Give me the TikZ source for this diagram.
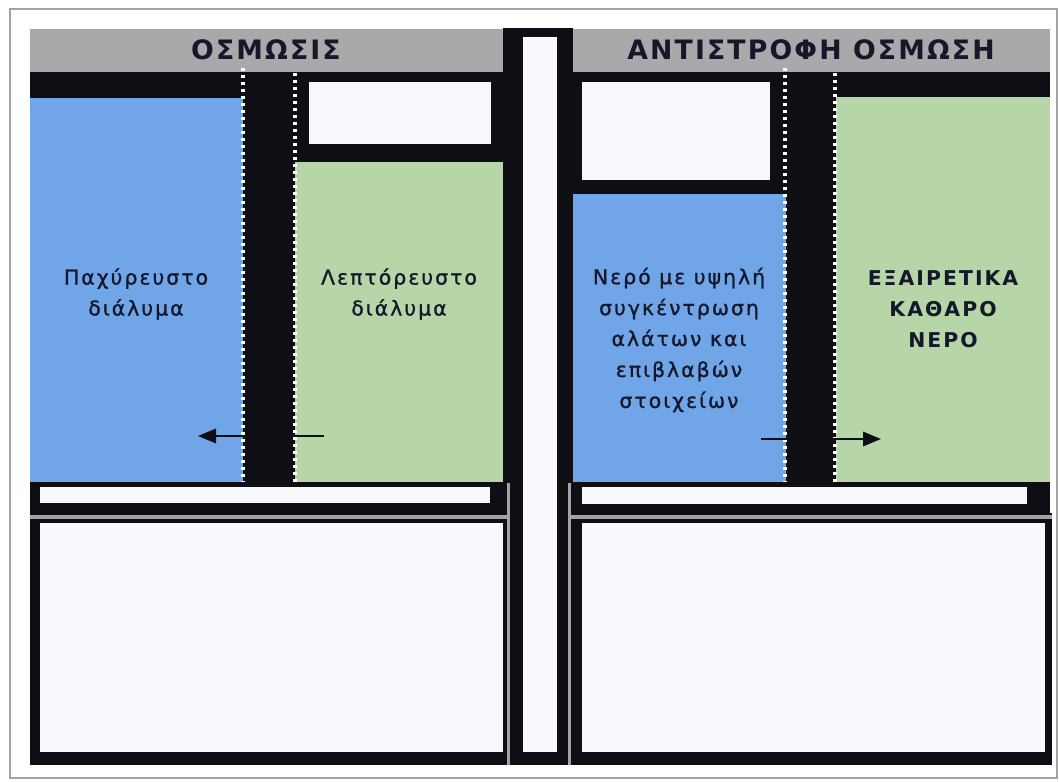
\documentclass[tikz,border=0pt]{standalone}
\usepackage{fontspec}
\setmainfont{DejaVu Sans}
\usepackage{xcolor}
\usepackage{tikz}
\usetikzlibrary{arrows.meta}
\definecolor{ink}{HTML}{0E0E14}
\definecolor{head}{HTML}{A9A9AC}
\definecolor{salt}{HTML}{70A6E8}
\definecolor{pure}{HTML}{B6D6A8}
\definecolor{paper}{HTML}{F7F9FC}
\definecolor{rim}{HTML}{A3A3A6}
\definecolor{type}{HTML}{15172A}
\tikzset{
  >={Triangle[length=0.45cm,width=0.36cm]},
  headbar/.style={fill=head},
  wall/.style={fill=ink},
  hole/.style={fill=paper},
  membrane/.style={white,line width=0.11cm,dash pattern=on 0.075cm off 0.1cm},
  seam/.style={rim,line width=0.09cm},
  flow/.style={ink,line width=0.05cm},
  headtext/.style={type,font=\bfseries\fontsize{19}{22}\selectfont\addfontfeatures{LetterSpace=8}},
  fluidtext/.style={type,align=center,font=\fontsize{14.5}{22}\selectfont\addfontfeatures{LetterSpace=10,FakeBold=1.2}},
  puretext/.style={type,align=center,font=\bfseries\fontsize{14.5}{22}\selectfont\addfontfeatures{LetterSpace=10}},
}

\begin{document}
\begin{tikzpicture}[x=0.025cm,y=-0.025cm]
  \useasboundingbox (0,0) rectangle (1059,782);
  \fill[white] (0,0) rectangle (1059,782);
  \draw[rim,line width=0.05cm] (10,9) rectangle (1057,778);
  % left cell
  \fill[headbar] (30,29) rectangle (503,72);
  \fill[wall] (30,72) rectangle (503,515);
  \fill[salt] (30,98) rectangle (243,482);
  \fill[pure] (295,162) rectangle (503,482);
  \fill[hole] (309,82) rectangle (491,144);
  \fill[hole] (40,487) rectangle (490,503);
  \fill[wall] (30,513) rectangle (510,765);
  \fill[hole] (40,523) rectangle (506,752);
  % middle column
  \fill[wall] (503,28) rectangle (573,765);
  \fill[hole] (523,37) rectangle (557,752);
  % right cell
  \fill[headbar] (573,29) rectangle (1050,72);
  \fill[wall] (573,72) rectangle (1050,515);
  \fill[hole] (582,82) rectangle (770,180);
  \fill[salt] (573,194) rectangle (786,482);
  \fill[pure] (836,97) rectangle (1050,482);
  \fill[hole] (582,487) rectangle (1027,504);
  \fill[wall] (570,513) rectangle (1052,765);
  \fill[hole] (582,523) rectangle (1045,752);
  % seams round the pistons
  \draw[seam] (508.5,483) -- (508.5,765) (30,517) -- (508.5,517);
  \draw[seam] (569.5,483) -- (569.5,765) (569.5,517) -- (1052,517);
  % membranes
  \draw[membrane] (243,68) -- (243,482) (295,73) -- (295,482);
  \draw[membrane] (785,68) -- (785,482) (835,73) -- (835,482);
  % texts
  \node[headtext] (hdOsm) at (266,50) {ΟΣΜΩΣΙΣ};
  \node[headtext] (hdRev) at (811,50) {ΑΝΤΙΣΤΡΟΦΗ ΟΣΜΩΣΗ};
  \node[fluidtext] (thick) at (136,294) {Παχύρευστο\\διάλυμα};
  \node[fluidtext] (thin) at (399,294) {Λεπτόρευστο\\διάλυμα};
  \node[fluidtext] (brine) at (679,340) {Νερό με υψηλή\\συγκέντρωση\\αλάτων και\\επιβλαβών\\στοιχείων};
  \node[puretext] (clean) at (943,309) {ΕΞΑΙΡΕΤΙΚΑ\\ΚΑΘΑΡΟ\\ΝΕΡΟ};
  % water flow
  \coordinate (inL) at (324,436);
  \coordinate (outL) at (198,436);
  \coordinate (inR) at (761,439);
  \coordinate (outR) at (881,439);
  \draw[flow,->] (inL) -- (outL);
  \draw[flow,->] (inR) -- (outR);
\end{tikzpicture}
\end{document}
